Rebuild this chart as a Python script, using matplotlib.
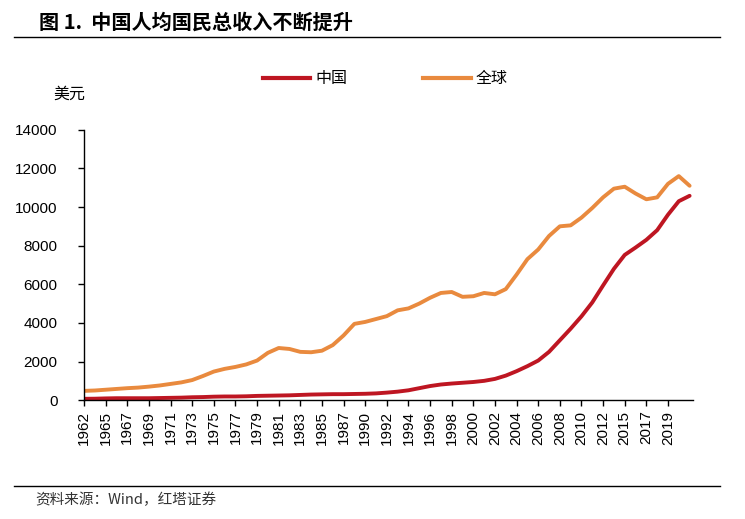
import matplotlib
matplotlib.use("Agg")
from matplotlib import pyplot as plt
from matplotlib.lines import Line2D

plt.rcParams['font.family'] = ['Liberation Sans', 'Noto Sans CJK SC', 'DejaVu Sans']

# category years (source data skips a few years)
years = [1962, 1963] + list(range(1965, 1989)) + list(range(1990, 2014)) + list(range(2015, 2022))

china = [70, 75, 90, 100, 100, 100, 100, 110, 120, 130,
         150, 160, 180, 190, 190, 200, 220, 230, 240, 250,
         270, 290, 300, 310, 310, 320, 330, 350, 390, 440,
         510, 620, 730, 810, 860, 900, 940, 1000, 1100, 1270,
         1500, 1760, 2050, 2500, 3100, 3700, 4340, 5060, 5940, 6800,
         7520, 7900, 8300, 8800, 9600, 10300, 10580]

world = [480, 500, 540, 580, 620, 650, 700, 760, 840, 920,
         1040, 1250, 1480, 1620, 1720, 1850, 2050, 2450, 2700, 2650,
         2500, 2480, 2560, 2850, 3350, 3950, 4050, 4200, 4350, 4650,
         4750, 5000, 5300, 5550, 5600, 5350, 5380, 5550, 5480, 5750,
         6500, 7300, 7800, 8500, 9000, 9050, 9450, 9950, 10500, 10950,
         11050, 10700, 10400, 10500, 11200, 11600, 11100]

tick_years = [1962, 1965, 1967, 1969, 1971, 1973, 1975, 1977, 1979, 1981,
              1983, 1985, 1987, 1990, 1992, 1994, 1996, 1998, 2000, 2002,
              2004, 2006, 2008, 2010, 2012, 2015, 2017, 2019]

red = '#BE1622'
orange = '#E98A3E'

fig = plt.figure(figsize=(7.45, 5.19), dpi=100)
ax = fig.add_axes([0.1128, 0.229, 0.8172, 0.521])

xs = list(range(len(years)))
ax.plot(xs, china, color=red, lw=2.8, solid_capstyle='round', label='中国')
ax.plot(xs, world, color=orange, lw=2.8, solid_capstyle='round', label='全球')

ax.set_ylim(0, 14000)
ax.set_yticks(range(0, 14001, 2000))
ax.set_xlim(0, 56.3)
ax.set_xticks([years.index(y) for y in tick_years])
ax.set_xticklabels([str(y) for y in tick_years], rotation=90)
ax.tick_params(axis='both', labelsize=11, length=4, width=1, color='black')
ax.tick_params(axis='y', pad=15)
for s in ['top', 'right']:
    ax.spines[s].set_visible(False)
for s in ['left', 'bottom']:
    ax.spines[s].set_linewidth(1)

# legend
handles = [Line2D([0], [0], color=red, lw=3), Line2D([0], [0], color=orange, lw=3)]
fig.legend(handles, ['中国', '全球'], loc='center', bbox_to_anchor=(0.517, 0.848), ncol=2,
           frameon=False, handlelength=3.0, columnspacing=4.75, handletextpad=0.3,
           prop={'family': ['Noto Sans CJK SC'], 'size': 11.5})

fig.text(0.071, 0.81, '美元', fontsize=11.5, family=['Noto Sans CJK SC'])

# title and source
fig.text(0.052, 0.958, '图 1.  中国人均国民总收入不断提升', fontsize=14.5, fontweight='bold',
         family=['Noto Sans CJK SC'], va='center')
fig.add_artist(Line2D([0.019, 0.967], [0.929, 0.929], color='black', lw=1))
fig.add_artist(Line2D([0.019, 0.967], [0.064, 0.064], color='black', lw=1))
fig.text(0.048, 0.036, '资料来源：Wind，红塔证券', fontsize=10.5, color='#333333',
         family=['Noto Sans CJK SC', 'Liberation Sans'], va='center')

fig.savefig('out.png', dpi=100)
